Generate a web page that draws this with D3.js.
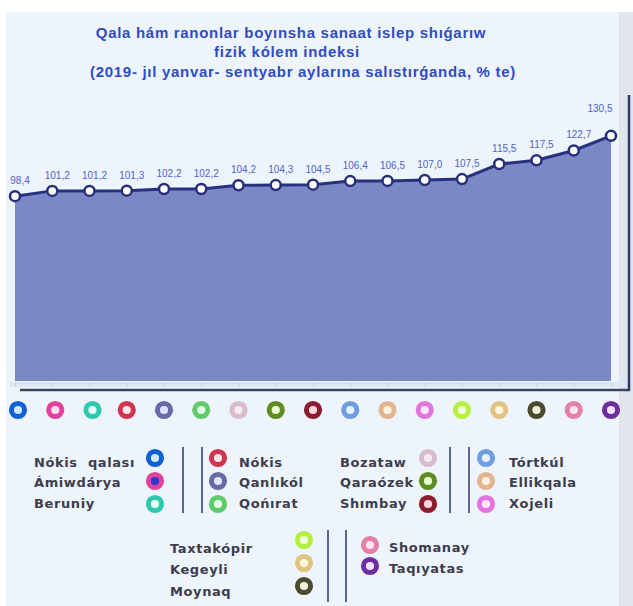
<!DOCTYPE html>
<html><head><meta charset="utf-8">
<script src="https://cdn.jsdelivr.net/npm/d3@7"></script>
<style>
html,body{margin:0;padding:0;background:#fff;}
svg{display:block;font-family:"Liberation Sans",Arial,sans-serif;}
</style></head>
<body>
<svg id="chart" width="633" height="606"></svg>
<script>
const categories = ["Nókis  qalası","Ámiwdárya","Beruniy","Nókis","Qanlıkól","Qońırat","Bozataw","Qaraózek","Shımbay","Tórtkúl","Ellikqala","Xojeli","Taxtakópir","Kegeyli","Moynaq","Shomanay","Taqıyatas"];
const values = [98.4,101.2,101.2,101.3,102.2,102.2,104.2,104.3,104.5,106.4,106.5,107.0,107.5,115.5,117.5,122.7,130.5];
const colors = ["#0f5fd6","#e2409a","#2ec9ad","#d0344e","#686aa6","#5fcb6c","#d9bccb","#5c8c22","#8c1c30","#6e9de2","#e2b490","#e274e0","#b4f03e","#e3c383","#4b4a30","#e47fa6","#6e2f9e"];
const innerColors = ["#cfe8ff","#ffe0f0","#e6fff8","#ffe6ea","#e0e0ff","#e8ffe8","#f4eaf0","#e8ffd0","#ffd8de","#e6f2ff","#fff0e2","#ffe8ff","#f4ffe0","#fff6e0","#f2f0d8","#ffe6f0","#f4e0ff"];
const legendInner = innerColors.map((c,i)=> i===1 ? "#2a3ad0" : c);
const titleLines = ["Qala hám ranonlar boyınsha sanaat islep shıǵarıw","fizik kólem indeksi","(2019- jıl yanvar- sentyabr aylarına salıstırǵanda, % te)"];
// legend groups: indices into categories
const legendGroups = [[0,1,2],[3,4,5],[6,7,8],[9,10,11],[12,13,14],[15,16]];

const svg = d3.select("#chart");
// background
svg.append("rect").attr("x",0).attr("y",0).attr("width",633).attr("height",606).attr("fill","#ffffff");
svg.append("rect").attr("x",6).attr("y",12).attr("width",627).attr("height",594).attr("fill","#eef4fb");
svg.append("rect").attr("x",619).attr("y",12).attr("width",14).attr("height",594).attr("fill","#e1e6ed");

// title
const title = svg.append("text").attr("text-anchor","middle").attr("fill","#2f4cc4")
  .attr("font-weight","bold").attr("font-size",15).attr("letter-spacing",0.7);
titleLines.forEach((t,i)=>{
  title.append("tspan").attr("x",[291,287,303][i]).attr("y",[38,57,77][i]).text(t);
});

const x = d3.scalePoint().domain(categories).range([15,611]);
const y = d3.scaleLinear().domain([0,140]).range([381,118]);

// area
const area = d3.area().x((d,i)=>x(categories[i])).y0(y(0)).y1(d=>y(d));
svg.append("path").datum(values).attr("d",area).attr("fill","#7c88c6");

// axis band and ticks
svg.append("rect").attr("x",10).attr("y",y(0)+1).attr("width",618).attr("height",5).attr("fill","#dde8f5");
const axisG = svg.append("g").attr("transform",`translate(0,${y(0)+2})`)
  .call(d3.axisBottom(x).tickSize(4).tickSizeOuter(0).tickFormat(""));
axisG.select(".domain").attr("stroke","#d3e0ef").attr("stroke-width",1);
axisG.selectAll(".tick line").attr("stroke","#c2d1e4");
svg.append("line").attr("x1",20).attr("x2",630).attr("y1",390).attr("y2",390).attr("stroke","#3b4560").attr("stroke-width",2.5);
svg.append("line").attr("x1",629).attr("x2",629).attr("y1",95).attr("y2",391).attr("stroke","#2f3a66").attr("stroke-width",2.5);

// line
const line = d3.line().x((d,i)=>x(categories[i])).y(d=>y(d));
svg.append("path").datum(values).attr("d",line).attr("fill","none").attr("stroke","#27327e").attr("stroke-width",3);

// markers
svg.append("g").selectAll("circle").data(values).join("circle")
  .attr("cx",(d,i)=>x(categories[i])).attr("cy",d=>y(d)).attr("r",5)
  .attr("fill","#ffffff").attr("stroke","#26307a").attr("stroke-width",2.5);

// labels
const fmt = v => d3.format(".1f")(v).replace(".",",");
svg.append("g").selectAll("text").data(values).join("text")
  .attr("x",(d,i)=>Math.min(x(categories[i])+5, 600))
  .attr("y",(d,i)=>y(d)-(i===values.length-1?24:12))
  .attr("text-anchor","middle").attr("font-size",10).attr("fill","#5064c8")
  .text(d=>fmt(d));

// donut helper
function donut(g,cx,cy,stroke,fill){
  g.append("circle").attr("cx",cx).attr("cy",cy).attr("r",6.6)
    .attr("fill",fill).attr("stroke",stroke).attr("stroke-width",5);
}
// bottom row
const row = svg.append("g");
categories.forEach((c,i)=>donut(row,x(c)+(i<3?3:0),410,colors[i],innerColors[i]));

// legend
const lg = svg.append("g").attr("font-size",13).attr("font-weight","bold").attr("fill","#3d3d4d")
  .attr("font-family","'DejaVu Sans',Verdana,sans-serif").attr("letter-spacing",0.6);
const layout = [
  {tx:34, cx:155, ys:[462,482,503], cys:[458,481,504]},
  {tx:239, cx:218, ys:[462,482,503], cys:[458,481,504]},
  {tx:340, cx:428, ys:[462,482,503], cys:[458,481,504]},
  {tx:509, cx:486, ys:[462,482,503], cys:[458,481,504]},
  {tx:170, cx:304, ys:[548,569,591], cys:[540,563,586]},
  {tx:389, cx:370, ys:[547,568], cys:[545,566]}
];
legendGroups.forEach((items,gi)=>{
  const L = layout[gi];
  items.forEach((idx,k)=>{
    lg.append("text").attr("x",L.tx).attr("y",L.ys[k]+5).style("white-space","pre").text(categories[idx]);
    donut(lg,L.cx,L.cys[k],colors[idx],legendInner[idx]);
  });
});
// dividers
[[183,447,513],[202,447,513],[450,447,513],[469,447,513],[328,530,602],[346,530,602]].forEach(d=>{
  svg.append("line").attr("x1",d[0]).attr("x2",d[0]).attr("y1",d[1]).attr("y2",d[2])
    .attr("stroke","#5a6890").attr("stroke-width",2);
});
</script>
</body></html>
